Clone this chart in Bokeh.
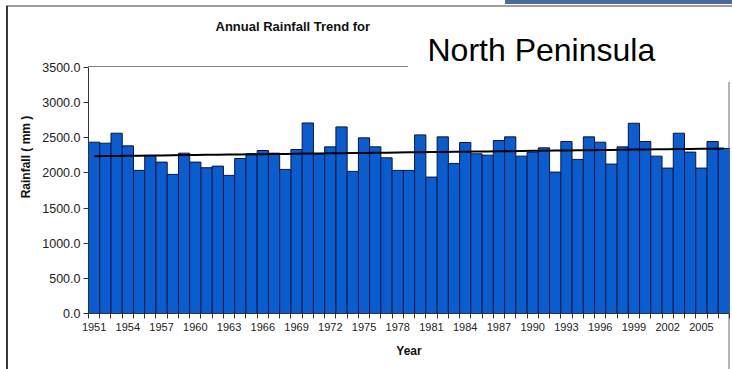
import numpy as np
from bokeh.plotting import figure
from bokeh.models import Range1d, FixedTicker, PrintfTickFormatter, Label
from bokeh.embed import file_html
from bokeh.resources import INLINE

# Annual rainfall (mm), 1951-2007
years = list(range(1951, 2008))
rainfall = [2437, 2423, 2565, 2385, 2036, 2239, 2154, 1979, 2281, 2154,
            2074, 2097, 1965, 2206, 2272, 2319, 2281, 2050, 2333, 2711,
            2272, 2371, 2655, 2022, 2499, 2371, 2215, 2036, 2036, 2541,
            1941, 2513, 2135, 2433, 2272, 2253, 2461, 2513, 2239, 2296,
            2357, 2012, 2447, 2192, 2513, 2437, 2126, 2371, 2707, 2447,
            2239, 2069, 2565, 2296, 2069, 2447, 2348]
year_labels = years[::3]
y_ticks = [0, 500, 1000, 1500, 2000, 2500, 3000, 3500]

title_text = "Annual Rainfall Trend for"
region_name = "North Peninsula"

FONT = "Liberation Sans"

W, H = 732, 369
FRAME_LEFT, FRAME_RIGHT = 88, 729
AXIS_TOP, AXIS_BOTTOM = 67, 313   # pixel rows of 3500 and 0

# the frame reaches the top of the canvas so the headings can sit inside it;
# the value axis itself is bounded to 0..3500
y_top = y_ticks[-1] * AXIS_BOTTOM / (AXIS_BOTTOM - AXIS_TOP)

# chart frame, panel edges and the plot-area top edge, painted behind
# a transparent canvas
frame_css = {
    "background-color": "white",
    "background-image": ", ".join([
        "linear-gradient(#3a3a3a, #3a3a3a)",   # left edge
        "linear-gradient(#9c9c9c, #9c9c9c)",   # top edge
        "linear-gradient(#4a6c9b, #4a6c9b)",   # header tab
        "linear-gradient(#b4b4b4, #b4b4b4)",   # right edge
        "linear-gradient(#808080, #808080)",   # plot-area top
    ]),
    "background-size": "2px 363px, 726px 2px, 227px 4px, 2px 287px, 320px 1px",
    "background-position": "6px 6px, 6px 5px, 505px 0px, 728px 82px, 88px 66px",
    "background-repeat": "no-repeat",
}

p = figure(width=W, height=H, title=None, output_backend="svg",
           toolbar_location=None,
           x_range=Range1d(years[0] - 0.5, years[-1] + 0.5),
           y_range=Range1d(y_ticks[0], y_top),
           min_border_left=FRAME_LEFT, min_border_right=W - FRAME_RIGHT,
           min_border_top=0, min_border_bottom=H - AXIS_BOTTOM,
           background_fill_alpha=0, border_fill_alpha=0,
           styles=frame_css)
p.outline_line_color = None
p.xgrid.visible = False
p.ygrid.visible = False

# columns, no gap between categories
p.vbar(x=years, top=rainfall, width=1.0, bottom=0,
       fill_color="#0A5DCE", line_color="#0B1640", line_width=1)

# linear trend line
slope, intercept = np.polyfit(years, rainfall, 1)
trend = [slope * yr + intercept for yr in years]
p.line(years, trend, line_color="black", line_width=2)

# x axis: labels every third year, ticks between the columns
xa = p.xaxis[0]
xa.ticker = FixedTicker(ticks=year_labels,
                        minor_ticks=[yr - 0.5 for yr in years] + [years[-1] + 0.5])
xa.major_tick_out = 0
xa.major_tick_in = 0
xa.minor_tick_out = 5
xa.minor_tick_in = 0
xa.minor_tick_line_color = "#333333"
xa.axis_line_color = "#333333"
xa.major_label_text_font = FONT
xa.major_label_text_font_size = "11px"
xa.major_label_text_color = "#222222"
xa.major_label_standoff = 4
xa.axis_label = "Year"
xa.axis_label_text_font = FONT
xa.axis_label_text_font_style = "bold"
xa.axis_label_text_font_size = "12px"
xa.axis_label_text_color = "#111111"
xa.axis_label_standoff = 10

# y axis
ya = p.yaxis[0]
ya.bounds = (y_ticks[0], y_ticks[-1])
ya.ticker = FixedTicker(ticks=y_ticks, minor_ticks=[])
ya.formatter = PrintfTickFormatter(format="%.1f")
ya.major_tick_out = 5
ya.major_tick_in = 0
ya.minor_tick_out = 0
ya.minor_tick_in = 0
ya.major_tick_line_color = "#333333"
ya.axis_line_color = "#333333"
ya.major_label_text_font = FONT
ya.major_label_text_font_size = "12.5px"
ya.major_label_text_color = "#222222"
ya.major_label_standoff = 3
ya.axis_label = "Rainfall ( mm )"
ya.axis_label_text_font = FONT
ya.axis_label_text_font_style = "bold"
ya.axis_label_text_font_size = "12px"
ya.axis_label_text_color = "#111111"
ya.axis_label_standoff = 6

# headings
p.add_layout(Label(x=215, y=26, x_units="canvas", y_units="canvas",
                   text=title_text, text_font=FONT, text_font_style="bold",
                   text_font_size="13px", text_color="#111111",
                   text_baseline="middle", text_align="left"))
p.add_layout(Label(x=427, y=49, x_units="canvas", y_units="canvas",
                   text=region_name, text_font=FONT,
                   text_font_size="32px", text_color="black",
                   text_baseline="middle", text_align="left"))

open("out.html", "w").write(file_html(p, INLINE))
